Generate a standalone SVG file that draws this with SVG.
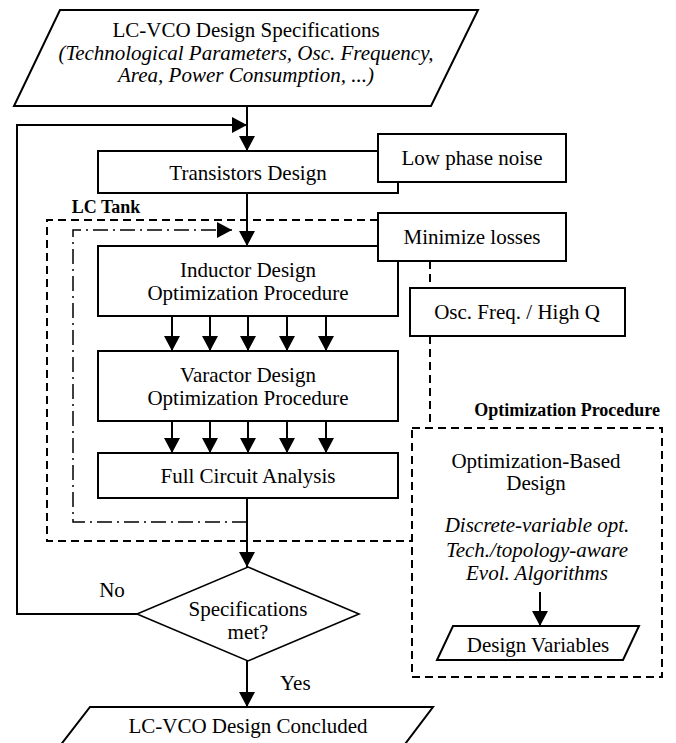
<svg xmlns="http://www.w3.org/2000/svg" width="676" height="743" viewBox="0 0 676 743">
<defs>
<marker id="ah" markerUnits="userSpaceOnUse" markerWidth="16" markerHeight="16" refX="15" refY="8" orient="auto">
<path d="M0,0 L15,8 L0,16 z" fill="#000"/>
</marker>
<style>
.box{fill:#fff;stroke:#000;stroke-width:2}
.t{font-family:"Liberation Serif","Times New Roman",serif;font-size:21px;fill:#000;text-anchor:middle}
.it{font-style:italic}
.b{font-weight:bold;font-size:18px}
.ln{fill:none;stroke:#000;stroke-width:2}
.dash{fill:none;stroke:#000;stroke-width:2;stroke-dasharray:8,5}
.dd{fill:none;stroke:#000;stroke-width:1.5;stroke-dasharray:15,5,2,5}
</style>
</defs>
<rect width="676" height="743" fill="#fff"/>

<g id="optproc">
<rect x="412" y="428" width="250" height="249" fill="#f2f2f2" class="dash"/>
<text class="t b" x="660" y="416" style="text-anchor:end">Optimization Procedure</text>
<rect x="420" y="435" width="232" height="73" fill="#fff"/>
<text class="t" x="536" y="468">Optimization-Based</text>
<text class="t" x="536" y="490">Design</text>
<text class="t it" x="537" y="532">Discrete-variable opt.</text>
<text class="t it" x="537" y="557">Tech./topology-aware</text>
<text class="t it" x="537" y="580">Evol. Algorithms</text>
</g>

<g id="connectors">
<line class="ln" x1="247" y1="106" x2="247" y2="151" marker-end="url(#ah)"/>
<polyline class="ln" points="137,614 17,614 17,125 247,125" marker-end="url(#ah)"/>
<line class="ln" x1="247" y1="193" x2="247" y2="246" marker-end="url(#ah)"/>
<polyline class="dd" points="247,522 73,522 73,230 232,230" marker-end="url(#ah)"/>
<polyline class="dash" points="378,220 47,220 47,541 412,541"/>
<line class="dash" x1="430" y1="261" x2="430" y2="288"/>
<line class="dash" x1="430" y1="336" x2="430" y2="428"/>
<line class="ln" x1="172" y1="316" x2="172" y2="351" marker-end="url(#ah)"/>
<line class="ln" x1="210" y1="316" x2="210" y2="351" marker-end="url(#ah)"/>
<line class="ln" x1="248" y1="316" x2="248" y2="351" marker-end="url(#ah)"/>
<line class="ln" x1="287" y1="316" x2="287" y2="351" marker-end="url(#ah)"/>
<line class="ln" x1="326" y1="316" x2="326" y2="351" marker-end="url(#ah)"/>
<line class="ln" x1="172" y1="421" x2="172" y2="453" marker-end="url(#ah)"/>
<line class="ln" x1="210" y1="421" x2="210" y2="453" marker-end="url(#ah)"/>
<line class="ln" x1="248" y1="421" x2="248" y2="453" marker-end="url(#ah)"/>
<line class="ln" x1="287" y1="421" x2="287" y2="453" marker-end="url(#ah)"/>
<line class="ln" x1="326" y1="421" x2="326" y2="453" marker-end="url(#ah)"/>
<line class="ln" x1="247" y1="498" x2="247" y2="567" marker-end="url(#ah)"/>
<line class="ln" x1="247" y1="661" x2="247" y2="707" marker-end="url(#ah)"/>
<line class="ln" x1="540" y1="592" x2="540" y2="626" marker-end="url(#ah)"/>
<text class="t" x="112" y="597">No</text>
<text class="t" x="280" y="690" style="text-anchor:start">Yes</text>
<text class="t b" x="106" y="213">LC Tank</text>
</g>

<g id="spec">
<polygon class="box" points="60,10 478,10 431,106 14,106"/>
<text class="t" x="246" y="37">LC-VCO Design Specifications</text>
<text class="t it" x="246" y="60">(Technological Parameters, Osc. Frequency,</text>
<text class="t it" x="246" y="82">Area, Power Consumption, ...)</text>
</g>

<g id="transistors">
<rect class="box" x="98" y="151" width="300" height="42"/>
<text class="t" x="248" y="180">Transistors Design</text>
</g>
<g id="lowphase">
<rect class="box" x="378" y="134" width="188" height="48"/>
<text class="t" x="472" y="165">Low phase noise</text>
</g>

<g id="inductor">
<rect class="box" x="98" y="246" width="300" height="70"/>
<text class="t" x="248" y="277">Inductor Design</text>
<text class="t" x="248" y="300">Optimization Procedure</text>
</g>
<g id="minimize">
<rect class="box" x="378" y="213" width="188" height="48"/>
<text class="t" x="472" y="244">Minimize losses</text>
</g>
<g id="oscfreq">
<rect class="box" x="410" y="288" width="215" height="48"/>
<text class="t" x="517" y="319">Osc. Freq. / High Q</text>
</g>

<g id="varactor">
<rect class="box" x="98" y="351" width="300" height="70"/>
<text class="t" x="248" y="382">Varactor Design</text>
<text class="t" x="248" y="405">Optimization Procedure</text>
</g>

<g id="fullcircuit">
<rect class="box" x="98" y="453" width="300" height="45"/>
<text class="t" x="248" y="483">Full Circuit Analysis</text>
</g>

<g id="decision">
<polygon class="box" points="248,567 359,614 248,661 137,614" style="stroke-width:1.6"/>
<text class="t" x="248" y="616">Specifications</text>
<text class="t" x="248" y="639">met?</text>
</g>

<g id="designvars">
<polygon class="box" points="453,626 639,626 623,660 437,660"/>
<text class="t" x="538" y="652">Design Variables</text>
</g>

<g id="concluded">
<polygon class="box" points="90,707 433,707 393,760 49,760"/>
<text class="t" x="248" y="733">LC-VCO Design Concluded</text>
</g>
</svg>
